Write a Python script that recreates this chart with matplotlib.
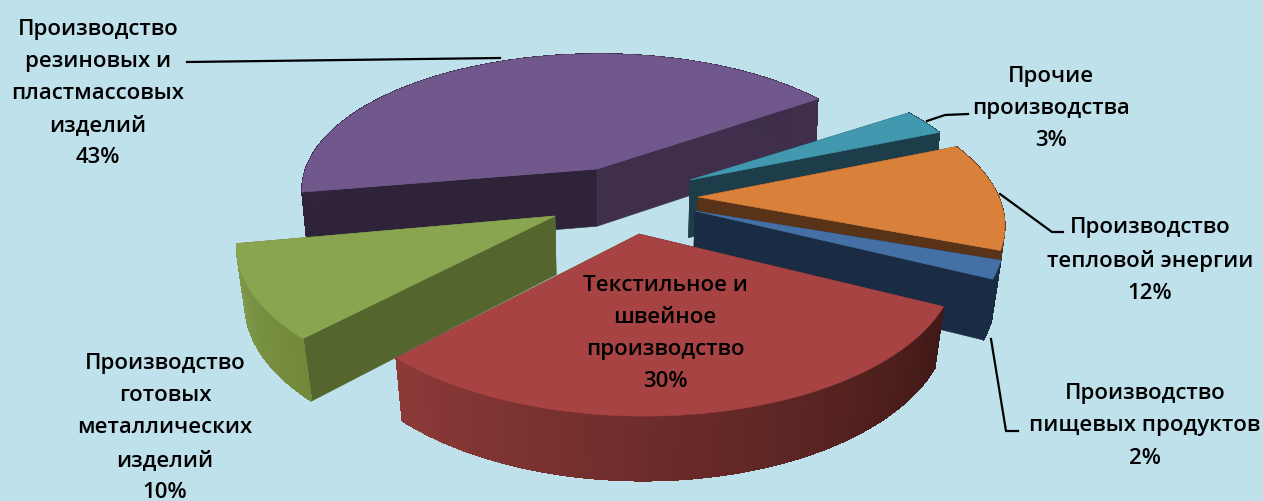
import numpy as np
import matplotlib
matplotlib.use('Agg')
import matplotlib.pyplot as plt
from matplotlib.colors import to_rgb
from matplotlib.patches import Polygon

plt.rcParams['font.family'] = ['Open Sans', 'DejaVu Sans']

# data, clockwise from the teal slice
names = ['Прочие\nпроизводства', 'Производство\nтепловой энергии', 'Производство\nпищевых продуктов',
         'Текстильное и\nшвейное\nпроизводство', 'Производство\nготовых\nметаллических\nизделий',
         'Производство\nрезиновых и\nпластмассовых\nизделий']
shares = [3, 12, 2, 30, 10, 43]

# styles
BG = '#bfe1eb'
TOP = ['#4198af', '#d9803a', '#4570a5', '#a74443', '#8aa54f', '#71588c']
WALL = ['#1c3d49', '#583318', '#1a2c44', '#471a18', '#55652e', '#2e2339']
WALL_END = ['#1c3d49', '#583318', '#1a2c44', '#55652e', '#55652e', '#3f2f4c']
ARC_A = ['#1c3d49', '#583318', '#1a2c44', '#401917', '#72893c', '#2e2339']
ARC_B = ['#1c3d49', '#583318', '#1a2c44', '#8c3a38', '#80994a', '#3f2f4c']

# layout in image pixels
apex = [(690, 181), (698, 198), (695, 212), (639, 235), (555, 217), (597, 170)]
radius = [1.01, 1.03, 1.02, 1.03, 1.05, 1.03]
tilt = [-2, -2, 0, 0, 0.5, 0]
label_xy = [(1051, 108.5), (1150, 260.5), (1145, 426), (665, 333.5), (165, 428), (98, 93.5)]
draw_order = [5, 0, 1, 2, 4, 3]
START = 35.0
CX, CY = 610.0, 195.0
RX, RY = 291.0, 136.0
K = 0.15
DEPTH = 58.0


def to_ground(px, py):
    """Pixel to ground plane coordinates"""
    yy = (CY - py) / RY
    v = yy / (1 - K * yy)
    s = 1 / (1 + K * v)
    return (px - CX) / (RX * s), v


def project(u, v):
    """Ground plane to pixel, top and bottom of the wall"""
    u, v = np.asarray(u, float), np.asarray(v, float)
    s = 1 / (1 + K * v)
    x = CX + RX * u * s
    y = CY - RY * v * s
    xb = CX + (x - CX) * (1 - (0.019 - 0.01 * v))
    yb = y + DEPTH * s ** 0.5
    return x, y, xb, yb


def poly(ax, xs, ys, color, z, smooth=True):
    ax.add_patch(Polygon(np.column_stack([xs, ys]), closed=True, facecolor=color,
                         edgecolor=color, linewidth=0.4, zorder=z, antialiased=smooth))


def draw_slice(ax, i, a0, a1, z):
    u0, v0 = to_ground(*apex[i])
    t = np.radians(np.linspace(a0 + tilt[i], a1 + tilt[i], 90))
    r = radius[i]
    x0, y0, xb0, yb0 = project(u0, v0)
    x, y, xb, yb = project(u0 + r * np.cos(t), v0 + r * np.sin(t))

    # radial walls
    poly(ax, [x0, x[0], xb[0], xb0], [y0, y[0], yb[0], yb0], WALL[i], z)
    poly(ax, [x0, x[-1], xb[-1], xb0], [y0, y[-1], yb[-1], yb0], WALL_END[i], z)

    # outer wall, shaded along the arc
    ca, cb = np.array(to_rgb(ARC_A[i])), np.array(to_rgb(ARC_B[i]))
    for j in range(len(t) - 1):
        c = ca + (cb - ca) * j / (len(t) - 2)
        poly(ax, [x[j], x[j + 1], xb[j + 1], xb[j]], [y[j], y[j + 1], yb[j + 1], yb[j]], tuple(c), z, smooth=False)

    poly(ax, np.r_[x0, x], np.r_[y0, y], TOP[i], z)


def main():
    fig = plt.figure(figsize=(12.63, 5.02), dpi=100, facecolor=BG)
    ax = fig.add_axes([0, 0, 1, 1])
    ax.set_xlim(0, 1263)
    ax.set_ylim(502, 0)
    ax.axis('off')

    ends = START - 3.6 * np.cumsum(shares)
    starts = np.r_[START, ends[:-1]]
    for z, i in enumerate(draw_order):
        draw_slice(ax, i, starts[i], ends[i], z + 2)

    # leader lines
    ax.plot([187, 500], [63, 59], color='black', lw=1.6, zorder=1)
    ax.plot([927, 945, 968], [122, 116, 115], color='black', lw=1.6, zorder=1)
    ax.plot([1000, 1052, 1063], [195, 233, 233], color='black', lw=1.6, zorder=1)
    ax.plot([991, 1006, 1018], [340, 432, 432], color='black', lw=1.6, zorder=1)

    for i, name in enumerate(names):
        ax.text(label_xy[i][0], label_xy[i][1], f'{name}\n{shares[i]}%', ha='center', va='center',
                fontsize=16, fontweight='semibold', color='black', linespacing=1.7, zorder=20)

    fig.savefig('out.png', dpi=100, facecolor=BG)


if __name__ == '__main__':
    main()
